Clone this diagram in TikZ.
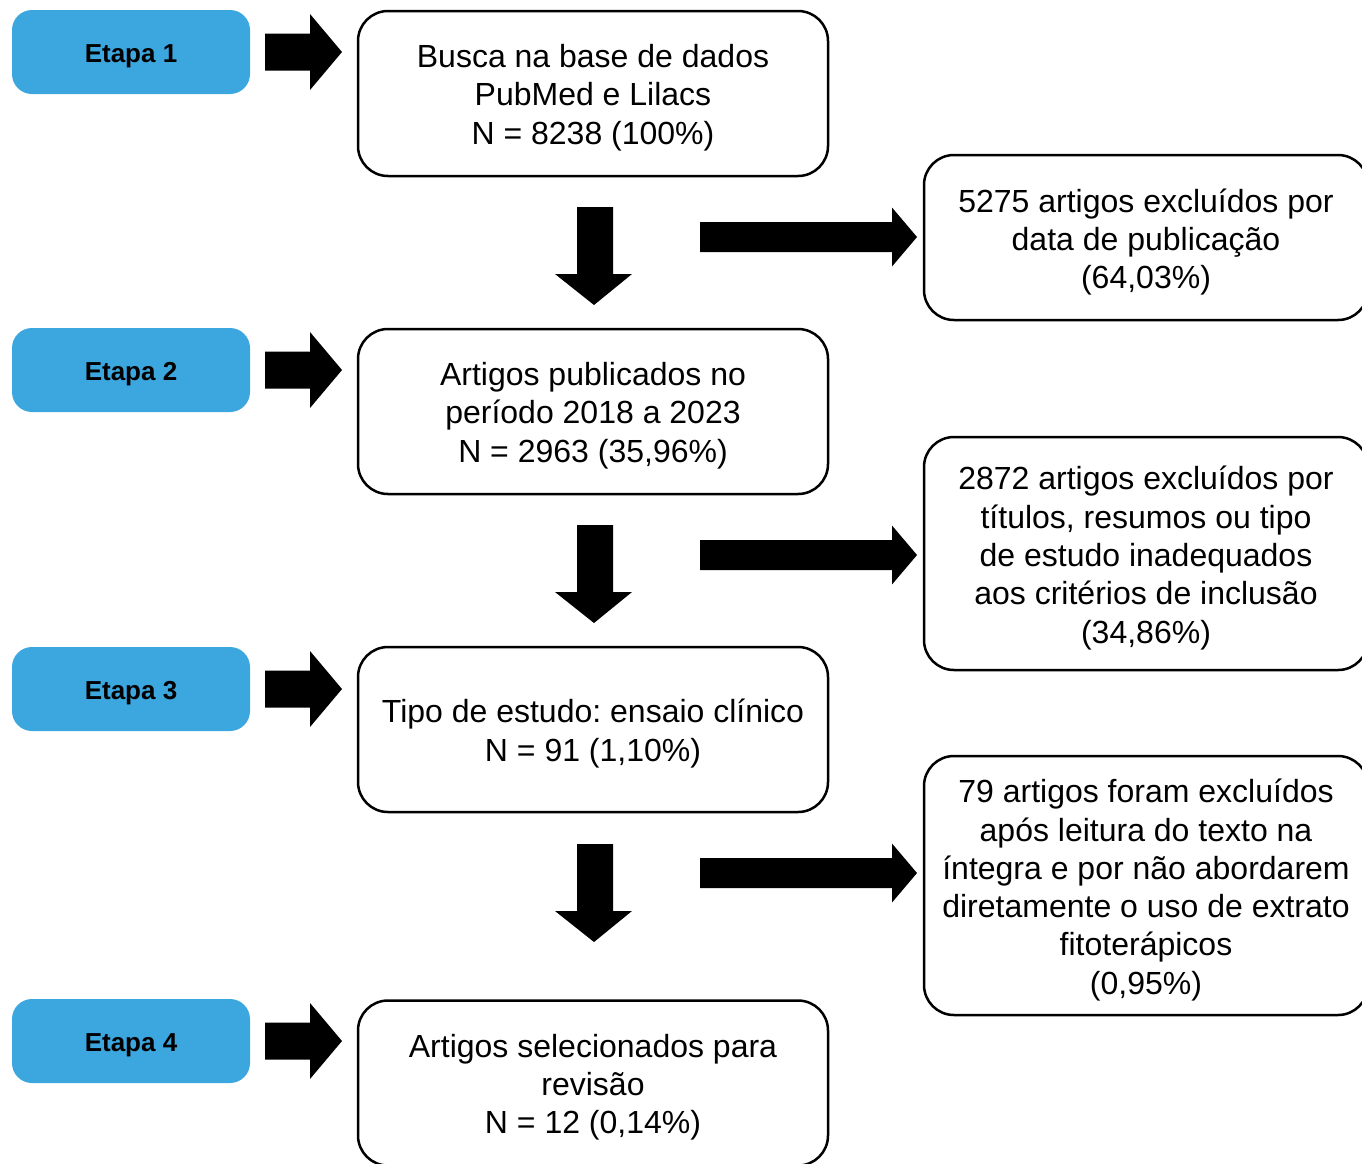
\documentclass[tikz,border=0pt]{standalone}
\usepackage{fontspec}
\setmainfont{Liberation Sans}
\frenchspacing
\definecolor{etapablue}{HTML}{3CA6DE}
\newcommand\mainstrut{\rule{0pt}{31.4pt}}
\newcommand\sidestrut{\rule{0pt}{32.6pt}}
\begin{document}
\begin{tikzpicture}[x=1pt,y=-1pt,
  etapa/.style={rectangle, rounded corners=20pt, fill=etapablue, draw=none,
    minimum width=238pt, minimum height=84pt, inner sep=0pt,
    font=\fontsize{26}{30}\selectfont\bfseries,
    execute at begin node={\rule{0pt}{26.6pt}}},
  mainbox/.style={rectangle, rounded corners=30pt, draw=black, line width=2.5pt,
    minimum width=470pt, minimum height=165pt, inner sep=0pt, align=center,
    font=\fontsize{32}{38.3}\selectfont},
  sidebox/.style={rectangle, rounded corners=30pt, draw=black, line width=2.5pt,
    minimum width=444pt, inner sep=0pt, align=center,
    font=\fontsize{32}{38.3}\selectfont},
  fat/.style={fill=black, draw=none}
]
\useasboundingbox (0,0) rectangle (1362,1163);
\clip (0,0) rectangle (1362,1163);

% Etapa boxes
\node[etapa] (e1) at (131,52) {Etapa 1};
\node[etapa] (e2) at (131,370) {Etapa 2};
\node[etapa] (e3) at (131,689) {Etapa 3};
\node[etapa] (e4) at (131,1041) {Etapa 4};

% main boxes
\node[mainbox] (b1) at (593,93.5) {\mainstrut Busca na base de dados\\PubMed e Lilacs\\N = 8238 (100\%)};
\node[mainbox] (b2) at (593,411.5) {\mainstrut Artigos publicados no\\período 2018 a 2023\\N = 2963 (35,96\%)};
\node[mainbox] (b3) at (593,729.5) {\mainstrut Tipo de estudo: ensaio clínico\\N = 91 (1,10\%)};
\node[mainbox] (b4) at (593,1083) {\mainstrut Artigos selecionados para\\revisão\\N = 12 (0,14\%)};

% side boxes
\node[sidebox, minimum height=165pt] (s1) at (1146,237.5) {\sidestrut 5275 artigos excluídos por\\data de publicação\\(64,03\%)};
\node[sidebox, minimum height=233pt] (s2) at (1146,553.5) {\sidestrut 2872 artigos excluídos por\\títulos, resumos ou tipo\\de estudo inadequados\\aos critérios de inclusão\\(34,86\%)};
\node[sidebox, minimum height=259pt] (s3) at (1146,885.5) {\sidestrut 79 artigos foram excluídos\\após leitura do texto na\\íntegra e por não abordarem\\diretamente o uso de extrato\\fitoterápicos\\(0,95\%)};

% fat arrows Etapa -> box
\foreach \c in {52,370,689,1041}{
  \fill[fat] (265,\c-18.5) -- (310,\c-18.5) -- (310,\c-38) -- (342,\c) -- (310,\c+38) -- (310,\c+18.5) -- (265,\c+18.5) -- cycle;
}

% down arrows between main boxes
\foreach \t in {207,525,844}{
  \fill[fat] (577,\t) -- (613,\t) -- (613,\t+67) -- (632,\t+67) -- (594,\t+98) -- (555,\t+67) -- (577,\t+67) -- cycle;
}

% long right arrows to side boxes
\foreach \c in {237,555,873}{
  \fill[fat] (700,\c-15) -- (892,\c-15) -- (892,\c-29.5) -- (917,\c) -- (892,\c+29.5) -- (892,\c+15) -- (700,\c+15) -- cycle;
}
\end{tikzpicture}
\end{document}
